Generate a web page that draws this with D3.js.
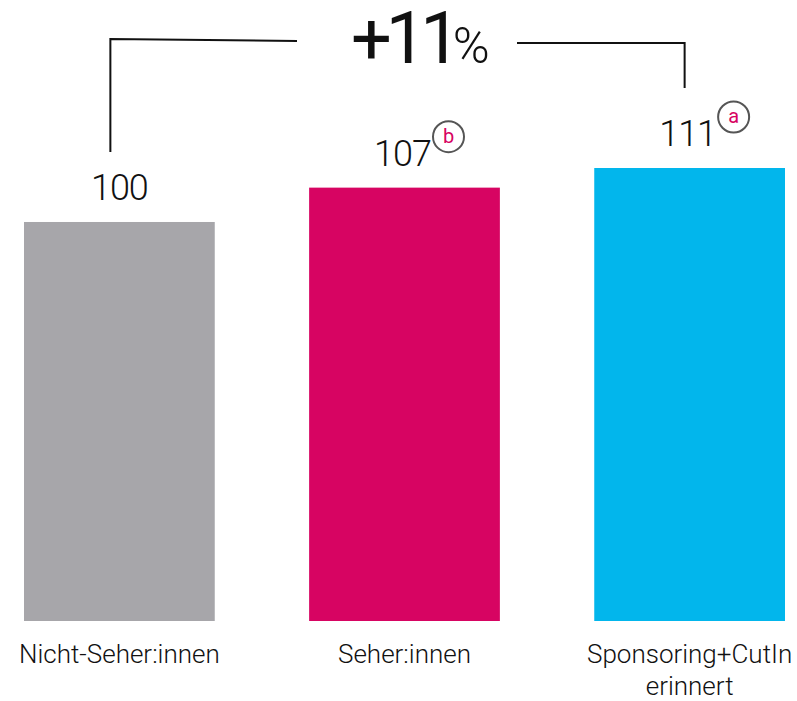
<!DOCTYPE html>
<html>
<head>
<meta charset="utf-8">
<script src="https://cdn.jsdelivr.net/npm/d3@7"></script>
<style>
  body { margin: 0; background: #fff; }
  svg { display: block; font-family: Roboto, "Noto Sans", sans-serif; }
</style>
</head>
<body>
<svg width="797" height="701"></svg>
<script>
var categories = [["Nicht-Seher:innen"], ["Seher:innen"], ["Sponsoring+CutIn", "erinnert"]];
var values = [100, 107, 111];
var badges = [null, "b", "a"];
var colors = ["#a7a6aa", "#d70462", "#02b6ec"];
var deltaLabel = "+11";

var svg = d3.select("svg");

var x = d3.scaleBand()
  .domain(d3.range(values.length))
  .range([24, 785])
  .paddingInner(0.331)
  .paddingOuter(0);

var y = d3.scaleLinear().domain([18.7, 111]).range([621, 168]);

// bars
svg.selectAll("rect.bar").data(values).enter().append("rect")
  .attr("class", "bar")
  .attr("x", (d, i) => x(i))
  .attr("y", d => y(d))
  .attr("width", x.bandwidth())
  .attr("height", d => y.range()[0] - y(d))
  .attr("fill", (d, i) => colors[i]);

// value labels
svg.selectAll("text.val").data(values).enter().append("text")
  .attr("class", "val")
  .attr("x", (d, i) => x(i) + x.bandwidth() / 2 - (badges[i] ? 2 : 0))
  .attr("y", d => y(d) - 22)
  .attr("text-anchor", "middle")
  .attr("font-size", 36)
  .attr("font-weight", 300)
  .attr("letter-spacing", -1)
  .attr("fill", "#111")
  .text(d => d);

// significance badges
values.forEach(function(d, i) {
  if (!badges[i]) return;
  var g = svg.append("g")
    .attr("transform", "translate(" + (x(i) + x.bandwidth() / 2 + 44) + "," + (y(d) - 51) + ")");
  g.append("circle").attr("r", 15.5).attr("fill", "none").attr("stroke", "#555").attr("stroke-width", 2);
  g.append("text")
    .attr("text-anchor", "middle")
    .attr("y", 6)
    .attr("font-size", 20)
    .attr("fill", "#d70462")
    .text(badges[i]);
});

// category labels
svg.selectAll("text.cat").data(categories).enter().append("text")
  .attr("class", "cat")
  .attr("x", (d, i) => x(i) + x.bandwidth() / 2)
  .attr("y", 663)
  .attr("text-anchor", "middle")
  .attr("font-size", 26)
  .attr("font-weight", 300)
  .attr("fill", "#111")
  .each(function(d, i) {
    var t = d3.select(this);
    d.forEach((line, k) => {
      t.append("tspan")
        .attr("x", x(i) + x.bandwidth() / 2)
        .attr("dy", k === 0 ? 0 : 32)
        .text(line);
    });
  });

// bracket
var first = 0, last = values.length - 1;
var lx = x(first) + x.bandwidth() / 2 - 9;
var rx = x(last) + x.bandwidth() / 2 - 5;
svg.append("path")
  .attr("d", "M" + lx + "," + (y(values[first]) - 70) + "V39L297,41")
  .attr("fill", "none").attr("stroke", "#111").attr("stroke-width", 2);
svg.append("path")
  .attr("d", "M517,43H" + rx + "V" + (y(values[last]) - 80))
  .attr("fill", "none").attr("stroke", "#111").attr("stroke-width", 2);

var dl = svg.append("text")
  .attr("x", 351)
  .attr("y", 63)
  .attr("fill", "#111");
dl.append("tspan").attr("font-size", 72).attr("letter-spacing", -6).text(deltaLabel);
dl.append("tspan").attr("font-size", 50).attr("font-weight", 300).attr("dx", -2).text("%");
</script>
</body>
</html>
